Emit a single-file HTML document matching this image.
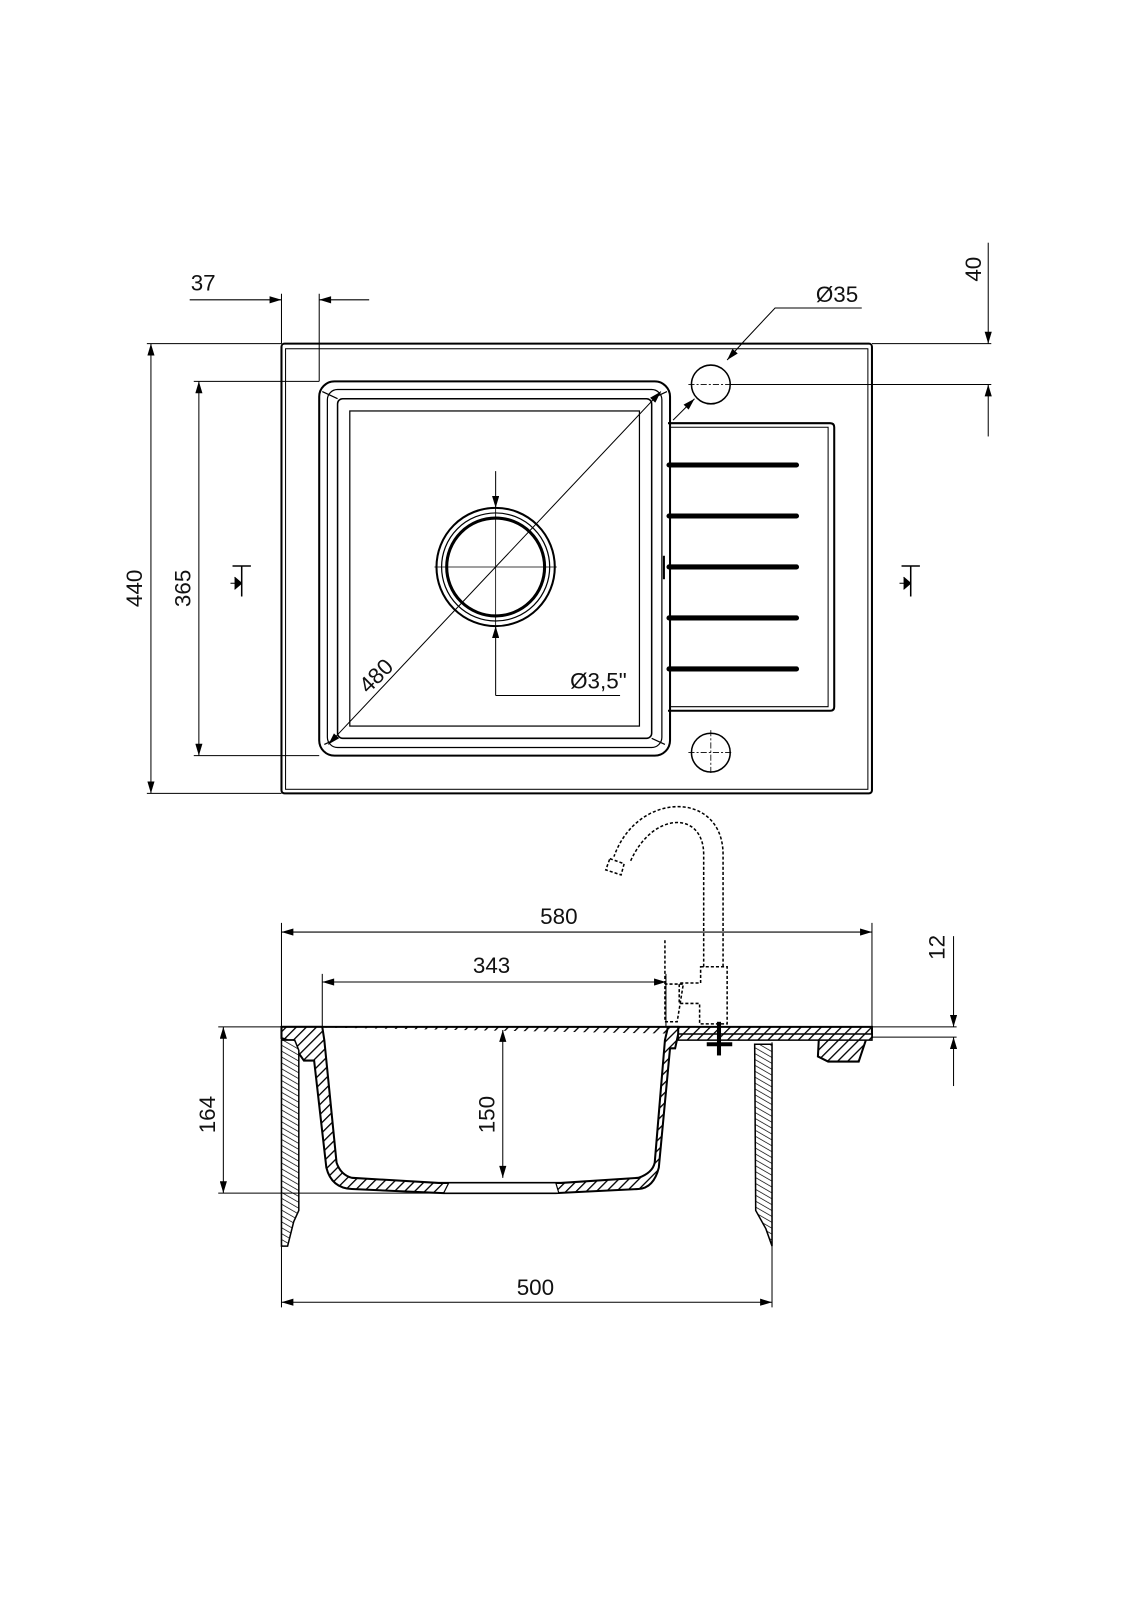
<!DOCTYPE html>
<html><head><meta charset="utf-8"><style>
html,body{margin:0;padding:0;background:#fff;}
svg{display:block;}
text{font-family:"Liberation Sans Narrow","Liberation Sans",sans-serif;font-stretch:condensed;font-size:22px;fill:#111;}
</style></head><body>
<svg width="1131" height="1600" viewBox="0 0 1109 1569" preserveAspectRatio="none" xmlns="http://www.w3.org/2000/svg">
<defs>
<pattern id="h" patternUnits="userSpaceOnUse" width="7" height="7" patternTransform="rotate(45)">
<rect width="7" height="7" fill="#fff"/><line x1="0" y1="0" x2="0" y2="7" stroke="#000" stroke-width="2.6"/></pattern>
<pattern id="h2" patternUnits="userSpaceOnUse" width="5" height="5" patternTransform="rotate(-60)">
<rect width="5" height="5" fill="#fff"/><line x1="0" y1="0" x2="0" y2="5" stroke="#000" stroke-width="1.4"/></pattern>
<marker id="a" viewBox="0 0 10 6" refX="10" refY="3" markerWidth="13" markerHeight="7" orient="auto-start-reverse" markerUnits="userSpaceOnUse"><path d="M0,0L10,3L0,6z" fill="#000"/></marker>
</defs>
<g fill="none" stroke="#000">
<!-- TOP VIEW -->
<rect x="276" y="337" width="579" height="441" rx="3" stroke-width="2"/>
<rect x="280" y="342" width="571" height="432" stroke-width="1"/>
<rect x="313" y="374" width="344" height="367" rx="15" stroke-width="2"/>
<rect x="321" y="382" width="328" height="351" rx="10" stroke-width="1.2"/>
<rect x="331" y="391" width="308" height="333" rx="5" stroke-width="1.5"/>
<rect x="343" y="403" width="284" height="309" stroke-width="1.2"/>
<path d="M316,384L331,391M318,730L331,724M654,384L639,391M652,730L639,724" stroke-width="1.2"/>
<circle cx="486" cy="556" r="58" stroke-width="2"/>
<circle cx="486" cy="556" r="53" stroke-width="1.2"/>
<circle cx="486" cy="556" r="48" stroke-width="3"/>
<path d="M426,556H546M486,498V614" stroke-width="0.8"/>
<path d="M655,415H814Q818,415 818,419V693Q818,697 814,697H655" stroke-width="2"/>
<path d="M657,419H812V693H657" stroke-width="1"/>
<g stroke-width="5" stroke-linecap="round">
<path d="M656,456H781M656,506H781M656,556H781M656,606H781M656,656H781"/>
</g>
<path d="M651,545V568" stroke-width="2"/>
<circle cx="697" cy="377" r="19" stroke-width="1.5"/>
<circle cx="697" cy="738" r="19" stroke-width="1.5"/>
<path d="M675,738H719M697,716V760M675,377H716" stroke-width="0.8" stroke-dasharray="6,2,2,2"/>
<path d="M716,377H972" stroke-width="1"/>
<path d="M322,730L648,384" stroke-width="1" marker-start="url(#a)" marker-end="url(#a)"/>
<path d="M845,302H760L730,334" stroke-width="1"/>
<path d="M730,334L713,353" stroke-width="1" marker-end="url(#a)"/>
<path d="M660,412L681,391" stroke-width="1" marker-end="url(#a)"/>
<path d="M486,462V498" stroke-width="1" marker-end="url(#a)"/>
<path d="M486,682V614" stroke-width="1" marker-end="url(#a)"/>
<path d="M486,682H608" stroke-width="1"/>
<path d="M144,337H276M144,778H276M190,374H313M190,741H313" stroke-width="1"/>
<path d="M148,337V778" stroke-width="1" marker-start="url(#a)" marker-end="url(#a)"/>
<path d="M195,374V741" stroke-width="1" marker-start="url(#a)" marker-end="url(#a)"/>
<path d="M276,288V337M313,288V374" stroke-width="1"/>
<path d="M186,294H276" stroke-width="1" marker-end="url(#a)"/>
<path d="M362,294H313" stroke-width="1" marker-end="url(#a)"/>
<path d="M855,337H972" stroke-width="1"/>
<path d="M969,238V337" stroke-width="1" marker-end="url(#a)"/>
<path d="M969,428V377" stroke-width="1" marker-end="url(#a)"/>
<path d="M228,555H246M237,555V585M884,555H902M893,555V585" stroke-width="1.5"/>
<path d="M237,572H226M893,572H882" stroke-width="1"/>
<path d="M230,566L237,572L230,578M886,566L893,572L886,578" stroke-width="1" fill="#000"/>

<!-- BOTTOM VIEW -->
<g stroke-width="1.5" stroke-dasharray="3,2">
<path d="M709,948V838C709,775 625,775 602,840"/>
<path d="M690,948V838C690,795 640,795 618,845"/>
<path d="M598,842L612,847L609,858L594,853Z"/>
<path d="M687,948H713V1004H686V984H666V964H687Z"/>
<path d="M652,922V1002H664L670,965H652"/>
</g>
<path d="M276,1007H855V1017H803L802,1036L812,1041H842L850,1017" stroke-width="2" fill="url(#h)"/>
<path d="M276,1007H316L318,1020L330,1140Q334,1152 345,1155L430,1160H550L626,1155Q640,1150 642,1140L652,1020L655,1007H665V1014L662,1028H657L646,1145Q641,1165 626,1166L545,1170H435L345,1166Q325,1165 320,1145L308,1040H298L291,1030L288,1020H282L276,1018Z" stroke-width="2" fill="url(#h)"/>
<path d="M665,1014H855V1020H665Z" fill="url(#h)" stroke-width="1.5"/>
<path d="M276,1020H289L293,1030V1187L288,1198L282,1222H276Z" fill="url(#h2)" stroke-width="1.5"/>
<path d="M740,1024H757V1222L751,1205L741,1187Z" fill="url(#h2)" stroke-width="1.5"/>
<path d="M440,1160H545L548,1170H435Z" fill="#fff" stroke-width="1.2"/>
<path d="M705,1002V1035" stroke-width="4"/>
<path d="M693,1024H718" stroke-width="4"/>
<path d="M276,905V1222M855,905V1008M316,955V1007M653,955V1007M757,1022V1282M276,1222V1282" stroke-width="1"/>
<path d="M276,914H855" stroke-width="1" marker-start="url(#a)" marker-end="url(#a)"/>
<path d="M316,963H653" stroke-width="1" marker-start="url(#a)" marker-end="url(#a)"/>
<path d="M276,1277H757" stroke-width="1" marker-start="url(#a)" marker-end="url(#a)"/>
<path d="M214,1007H276M214,1170H440M855,1007H938M855,1017H938" stroke-width="1"/>
<path d="M219,1007V1170" stroke-width="1" marker-start="url(#a)" marker-end="url(#a)"/>
<path d="M493,1010V1155" stroke-width="1" marker-start="url(#a)" marker-end="url(#a)"/>
<path d="M935,918V1007" stroke-width="1" marker-end="url(#a)"/>
<path d="M935,1065V1017" stroke-width="1" marker-end="url(#a)"/>
</g>
<text x="187" y="285">37</text>
<text x="800" y="296">Ø35</text>
<text x="559" y="675">Ø3,5"</text>
<text transform="translate(139,577) rotate(-90)" text-anchor="middle">440</text>
<text transform="translate(187,577) rotate(-90)" text-anchor="middle">365</text>
<text transform="translate(962,264) rotate(-90)" text-anchor="middle">40</text>
<text transform="translate(374,668) rotate(-45)" text-anchor="middle">480</text>
<text x="548" y="906" text-anchor="middle">580</text>
<text x="482" y="954" text-anchor="middle">343</text>
<text x="525" y="1270" text-anchor="middle">500</text>
<text transform="translate(211,1093) rotate(-90)" text-anchor="middle">164</text>
<text transform="translate(485,1093) rotate(-90)" text-anchor="middle">150</text>
<text transform="translate(926,929) rotate(-90)" text-anchor="middle">12</text>
</svg>
</body></html>
